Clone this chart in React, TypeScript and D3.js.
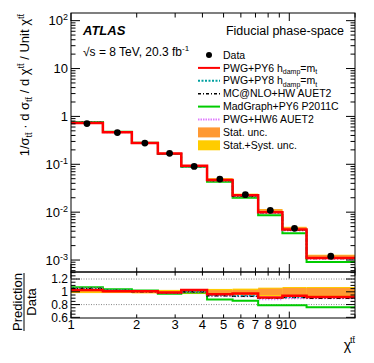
import React from 'react'
import * as d3 from 'd3'

// bin edges of chi^tt (log binning)
const edges = [1, 1.4, 1.9, 2.5, 3.2, 4.2, 5.5, 7.2, 9.3, 12, 20]
// normalised cross-section, measured
const dataVals = [0.71, 0.46, 0.277, 0.169, 0.09, 0.049, 0.0232, 0.0109, 0.0046, 0.0012]
// relative uncertainties
const statUnc = [0.005, 0.006, 0.008, 0.012, 0.015, 0.025, 0.03, 0.05, 0.06, 0.06]
const totUnc = [0.02, 0.02, 0.025, 0.03, 0.035, 0.045, 0.05, 0.065, 0.075, 0.075]
// prediction / data
const ratioPy6 = [1.03, 1.01, 1.01, 0.99, 1.03, 0.96, 0.975, 0.91, 0.94, 0.92]
const ratioPy8 = [1.04, 1.02, 1.01, 0.98, 1.01, 0.95, 0.94, 0.9, 0.92, 0.92]
const ratioMcnlo = [1.05, 1.02, 1.0, 0.98, 1.0, 0.94, 0.93, 0.9, 0.91, 0.9]
const ratioMadgraph = [1.07, 1.04, 1.02, 0.97, 0.99, 0.88, 0.86, 0.79, 0.79, 0.76]
const ratioHw6 = [1.05, 1.02, 1.01, 0.98, 1.0, 0.94, 0.93, 0.885, 0.9, 0.9]

const xTickLabels = ['1', '2', '3', '4', '5', '6', '7', '8', '9', '10']
const ratioTicks = [0.6, 0.8, 1, 1.2]
const ratioTickLabels = ['0.6', '0.8', '1', '1.2']

const TT = 't\u0074\u0304'
const FONT = "'Liberation Sans', Arial, Helvetica, sans-serif"

const L = 71, R = 355, T = 13, MB = 272, RB = 318

const series = [
  { name: 'madgraph', ratio: ratioMadgraph, color: '#00cc00', width: 2, dash: null },
  { name: 'hw6', ratio: ratioHw6, color: '#e07cff', width: 2, dash: '1.5,1.5' },
  { name: 'mcnlo', ratio: ratioMcnlo, color: '#000000', width: 1.5, dash: '4,2,1,2' },
  { name: 'py8', ratio: ratioPy8, color: '#00a0a0', width: 1.8, dash: '2,2' },
  { name: 'py6', ratio: ratioPy6, color: '#ff0000', width: 2.5, dash: null },
]

export default function App() {
  const x = d3.scaleLog().domain([1, 20]).range([L, R])
  const y = d3.scaleLog().domain([Math.pow(10, -3.25), Math.pow(10, 2.16)]).range([MB, T])
  const yr = d3.scaleLinear().domain([0.59, 1.31]).range([RB, MB])

  const stepLine = (vals: number[], sy: (v: number) => number) => {
    const pts: [number, number][] = vals.map((v, i) => [x(edges[i]), sy(v)])
    pts.push([x(edges[edges.length - 1]), sy(vals[vals.length - 1])])
    return d3.line().curve(d3.curveStepAfter)(pts) || ''
  }

  // ticks
  const yMain: { v: number; major: boolean }[] = []
  for (let e = -4; e <= 2; e++) {
    for (let m = 1; m <= 9; m++) {
      const v = m * Math.pow(10, e)
      const [lo, hi] = y.domain()
      if (v >= lo && v <= hi) yMain.push({ v, major: m === 1 })
    }
  }
  const xTicks: { v: number; major: boolean }[] = []
  for (let v = 1; v <= 10; v++) xTicks.push({ v, major: v === 1 || v === 10 })
  xTicks.push({ v: 20, major: false })
  const rMinor = d3.range(0.6, 1.31, 0.05)

  const decadeLabel = (e: number) => {
    if (e === 0) return <tspan>1</tspan>
    if (e === 1) return <tspan>10</tspan>
    return (
      <>
        <tspan>10</tspan>
        <tspan dy={-5} fontSize={9}>{e}</tspan>
      </>
    )
  }

  const legendRows = [55, 67.9, 80.8, 93.7, 106.6, 119.5, 132.4, 145.3]
  const lx0 = 198, lx1 = 220, ltx = 223

  return (
    <svg width={374} height={363} style={{ position: 'absolute', left: 0, top: 0, background: '#fff' }} fontFamily={FONT}>
      <defs>
        <clipPath id="clipMain"><rect x={L} y={T} width={R - L} height={MB - T} /></clipPath>
        <clipPath id="clipRatio"><rect x={L} y={MB} width={R - L} height={RB - MB} /></clipPath>
      </defs>

      {/* main panel */}
      <g clipPath="url(#clipMain)">
        {dataVals.map((d, i) => (
          <rect key={'ty' + i} x={x(edges[i])} width={x(edges[i + 1]) - x(edges[i])}
            y={y(d * (1 + totUnc[i]))} height={y(d * (1 - totUnc[i])) - y(d * (1 + totUnc[i]))} fill="#ffcc00" />
        ))}
        {dataVals.map((d, i) => (
          <rect key={'so' + i} x={x(edges[i])} width={x(edges[i + 1]) - x(edges[i])}
            y={y(d * (1 + statUnc[i]))} height={y(d * (1 - statUnc[i])) - y(d * (1 + statUnc[i]))} fill="#ff9933" />
        ))}
        {series.map(s => (
          <path key={s.name} d={stepLine(dataVals.map((d, i) => d * s.ratio[i]), y)} fill="none"
            stroke={s.color} strokeWidth={s.width} strokeDasharray={s.dash || undefined} />
        ))}
        {dataVals.map((d, i) => (
          <circle key={'pt' + i} cx={x(Math.sqrt(edges[i] * edges[i + 1]))} cy={y(d)} r={3.4} fill="#000" />
        ))}
      </g>

      {/* ratio panel */}
      <g clipPath="url(#clipRatio)">
        {[0.8, 1.2].map(v => (
          <line key={v} x1={L} x2={R} y1={yr(v)} y2={yr(v)} stroke="#888" strokeWidth={1} strokeDasharray="1,1.5" />
        ))}
        {totUnc.map((u, i) => (
          <rect key={'rty' + i} x={x(edges[i])} width={x(edges[i + 1]) - x(edges[i])}
            y={yr(1 + u)} height={yr(1 - u) - yr(1 + u)} fill="#ffcc00" />
        ))}
        {statUnc.map((u, i) => (
          <rect key={'rso' + i} x={x(edges[i])} width={x(edges[i + 1]) - x(edges[i])}
            y={yr(1 + u)} height={yr(1 - u) - yr(1 + u)} fill="#ff9933" />
        ))}
        {series.map(s => (
          <path key={s.name} d={stepLine(s.ratio, yr)} fill="none"
            stroke={s.color} strokeWidth={s.width} strokeDasharray={s.dash || undefined} />
        ))}
      </g>

      {/* frames */}
      <rect x={L} y={T} width={R - L} height={MB - T} fill="none" stroke="#000" strokeWidth={1} />
      <rect x={L} y={MB} width={R - L} height={RB - MB} fill="none" stroke="#000" strokeWidth={1} />

      {/* main y ticks */}
      {yMain.map((t, i) => {
        const len = t.major ? 9 : 4.5
        return (
          <g key={'ym' + i} stroke="#000" strokeWidth={1}>
            <line x1={L} x2={L + len} y1={y(t.v)} y2={y(t.v)} />
            <line x1={R} x2={R - len} y1={y(t.v)} y2={y(t.v)} />
          </g>
        )
      })}
      {d3.range(-3, 3).map(e => (
        <text key={'yl' + e} x={68} y={y(Math.pow(10, e))} dy="0.35em" textAnchor="end" fontSize={13}>
          {decadeLabel(e)}
        </text>
      ))}

      {/* x ticks on both panels */}
      {xTicks.map((t, i) => {
        const len = t.major ? 8 : 4.5
        return (
          <g key={'xt' + i} stroke="#000" strokeWidth={1}>
            <line x1={x(t.v)} x2={x(t.v)} y1={T} y2={T + len} />
            <line x1={x(t.v)} x2={x(t.v)} y1={MB} y2={MB - len} />
            <line x1={x(t.v)} x2={x(t.v)} y1={MB} y2={MB + len * 0.8} />
            <line x1={x(t.v)} x2={x(t.v)} y1={RB} y2={RB - len * 0.8} />
          </g>
        )
      })}
      {xTickLabels.map((lab, i) => (
        <text key={'xl' + i} x={x(i + 1)} y={329} textAnchor="middle" fontSize={13}>{lab}</text>
      ))}

      {/* ratio y ticks */}
      {rMinor.map((v, i) => {
        const major = Math.abs(v * 5 - Math.round(v * 5)) < 1e-6
        const len = major ? 9 : 4.5
        return (
          <g key={'rt' + i} stroke="#000" strokeWidth={1}>
            <line x1={L} x2={L + len} y1={yr(v)} y2={yr(v)} />
            <line x1={R} x2={R - len} y1={yr(v)} y2={yr(v)} />
          </g>
        )
      })}
      {ratioTicks.map((v, i) => (
        <text key={'rl' + i} x={68} y={yr(v)} dy="0.35em" textAnchor="end" fontSize={12}>{ratioTickLabels[i]}</text>
      ))}

      {/* axis titles */}
      <text transform={`translate(29,${T + 1}) rotate(-90)`} textAnchor="end" fontSize={13}>
        <tspan>1/σ</tspan>
        <tspan dy={3} fontSize={9}>{TT}</tspan>
        <tspan dy={-3}> · d σ</tspan>
        <tspan dy={3} fontSize={9}>{TT}</tspan>
        <tspan dy={-3}> / d χ</tspan>
        <tspan dy={-5} fontSize={9}>{TT}</tspan>
        <tspan dy={5}> / Unit χ</tspan>
        <tspan dy={-5} fontSize={9}>{TT}</tspan>
      </text>
      <text transform="translate(22,302) rotate(-90)" textAnchor="middle" fontSize={13}>Prediction</text>
      <line x1={24} x2={24} y1={273} y2={331} stroke="#000" strokeWidth={1} />
      <text transform="translate(36,302) rotate(-90)" textAnchor="middle" fontSize={13}>Data</text>
      <text x={351} y={350} textAnchor="end" fontSize={14}>χ</text>
      <text x={350} y={343} fontSize={9}>{TT}</text>

      {/* labels */}
      <text x={83} y={35} fontSize={13} fontWeight="bold" fontStyle="italic">ATLAS</text>
      <text x={83} y={56} fontSize={12}>
        <tspan>√s = 8 TeV, 20.3 fb</tspan>
        <tspan dy={-5} fontSize={8}>-1</tspan>
      </text>
      <text x={344} y={35} textAnchor="end" fontSize={12.5}>Fiducial phase-space</text>

      {/* legend */}
      <g fontSize={10.5}>
        <circle cx={(lx0 + lx1) / 2} cy={legendRows[0]} r={3} fill="#000" />
        <text x={ltx} y={legendRows[0]} dy="0.35em">Data</text>

        <line x1={lx0} x2={lx1} y1={legendRows[1]} y2={legendRows[1]} stroke="#ff0000" strokeWidth={2} />
        <text x={ltx} y={legendRows[1]} dy="0.35em">
          <tspan>PWG+PY6 h</tspan><tspan dy={2.5} fontSize={7}>damp</tspan><tspan dy={-2.5}>=m</tspan><tspan dy={2.5} fontSize={7}>t</tspan>
        </text>

        <line x1={lx0} x2={lx1} y1={legendRows[2]} y2={legendRows[2]} stroke="#00a0a0" strokeWidth={2} strokeDasharray="2,1.5" />
        <text x={ltx} y={legendRows[2]} dy="0.35em">
          <tspan>PWG+PY8 h</tspan><tspan dy={2.5} fontSize={7}>damp</tspan><tspan dy={-2.5}>=m</tspan><tspan dy={2.5} fontSize={7}>t</tspan>
        </text>

        <line x1={lx0} x2={lx1} y1={legendRows[3]} y2={legendRows[3]} stroke="#000" strokeWidth={1.5} strokeDasharray="3,2,1,2" />
        <text x={ltx} y={legendRows[3]} dy="0.35em">MC@NLO+HW AUET2</text>

        <line x1={lx0} x2={lx1} y1={legendRows[4]} y2={legendRows[4]} stroke="#00cc00" strokeWidth={2} />
        <text x={ltx} y={legendRows[4]} dy="0.35em">MadGraph+PY6 P2011C</text>

        <line x1={lx0} x2={lx1} y1={legendRows[5]} y2={legendRows[5]} stroke="#e07cff" strokeWidth={2} strokeDasharray="1.5,1" />
        <text x={ltx} y={legendRows[5]} dy="0.35em">PWG+HW6 AUET2</text>

        <rect x={lx0} y={legendRows[6] - 5} width={lx1 - lx0} height={10} fill="#ff9933" />
        <text x={ltx} y={legendRows[6]} dy="0.35em">Stat. unc.</text>

        <rect x={lx0} y={legendRows[7] - 5} width={lx1 - lx0} height={10} fill="#ffcc00" />
        <text x={ltx} y={legendRows[7]} dy="0.35em">Stat.+Syst. unc.</text>
      </g>
    </svg>
  )
}
